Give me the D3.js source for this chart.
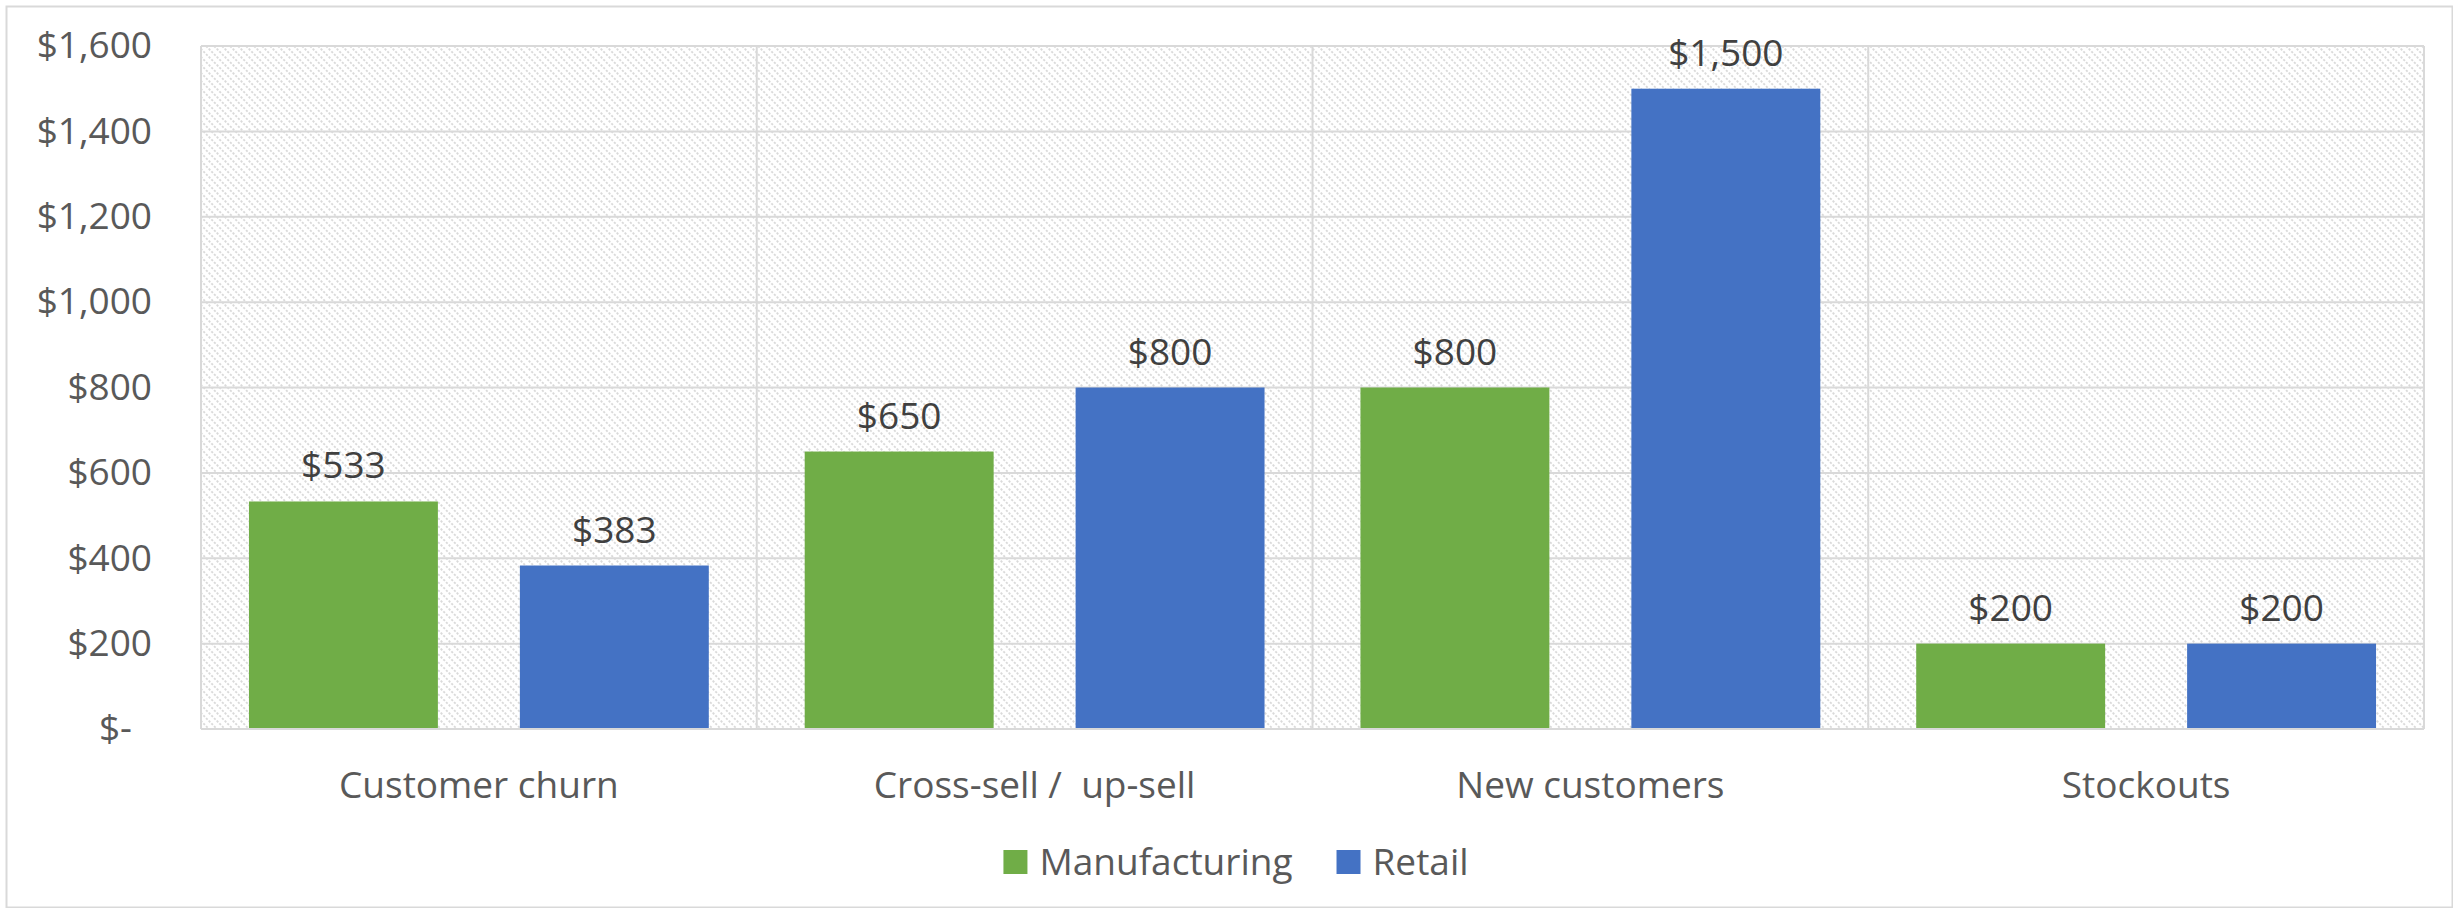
<!DOCTYPE html>
<html>
<head>
<meta charset="utf-8">
<script src="https://cdn.jsdelivr.net/npm/d3@7"></script>
<style>
  html, body { margin: 0; padding: 0; background: #ffffff; }
  svg { display: block; }
  text { font-family: "Open Sans", "Noto Sans", sans-serif; white-space: pre; }
</style>
</head>
<body>
<svg id="chart" width="2453" height="908"></svg>
<script>
// ---- data ----
const categories = ["Customer churn", "Cross-sell /  up-sell", "New customers", "Stockouts"];
const seriesNames = ["Manufacturing", "Retail"];
const manufacturing = [533, 650, 800, 200];
const retail = [383, 800, 1500, 200];
const yTickValues = [0, 200, 400, 600, 800, 1000, 1200, 1400, 1600];
const yTickLabels = ["$-", "$200", "$400", "$600", "$800", "$1,000", "$1,200", "$1,400", "$1,600"];
const seriesColors = ["#70AD47", "#4472C4"];

// ---- layout ----
const W = 2453, H = 908;
const FS = 37;
const plot = { left: 201, right: 2424, top: 46, bottom: 729 };
const svg = d3.select("#chart");

// outer chart border
svg.append("rect")
  .attr("x", 6.5).attr("y", 6.5).attr("width", W - 7).attr("height", H - 7)
  .attr("fill", "#ffffff").attr("stroke", "#d9d9d9").attr("stroke-width", 2);

// hatch pattern
const defs = svg.append("defs");
const pat = defs.append("pattern")
  .attr("id", "hatch").attr("patternUnits", "userSpaceOnUse")
  .attr("width", 8).attr("height", 8);
pat.append("rect").attr("width", 8).attr("height", 8).attr("fill", "#ffffff");
pat.append("path")
  .attr("d", "M-2,-2 L10,10 M-2,6 L2,10 M6,-2 L10,2")
  .attr("stroke", "#dadada").attr("stroke-width", 1.8)
  .attr("stroke-dasharray", "2.2 1.6");

const x = d3.scaleBand().domain(categories).range([plot.left, plot.right]).padding(0);
const xInner = d3.scaleBand().domain(seriesNames).range([0, x.bandwidth()])
  .paddingInner(0.3026).paddingOuter(0.177);
const y = d3.scaleLinear().domain([0, 1600]).range([plot.bottom, plot.top]);

// plot background
svg.append("rect")
  .attr("x", plot.left).attr("y", plot.top)
  .attr("width", plot.right - plot.left).attr("height", plot.bottom - plot.top)
  .attr("fill", "url(#hatch)");

// horizontal gridlines
svg.append("g").selectAll("line").data(yTickValues).join("line")
  .attr("x1", plot.left).attr("x2", plot.right)
  .attr("y1", d => y(d)).attr("y2", d => y(d))
  .attr("stroke", "#d9d9d9").attr("stroke-width", 2);

// vertical gridlines (category boundaries)
const vLines = categories.map(c => x(c)).concat([plot.right]);
svg.append("g").selectAll("line").data(vLines).join("line")
  .attr("x1", d => d).attr("x2", d => d)
  .attr("y1", plot.top).attr("y2", plot.bottom)
  .attr("stroke", "#d9d9d9").attr("stroke-width", 2);

// bars
const series = [manufacturing, retail];
series.forEach((vals, si) => {
  const g = svg.append("g");
  g.selectAll("rect").data(vals).join("rect")
    .attr("x", (d, i) => x(categories[i]) + xInner(seriesNames[si]))
    .attr("y", d => y(d))
    .attr("width", xInner.bandwidth())
    .attr("height", d => y(0) - y(d))
    .attr("fill", seriesColors[si]);
  g.selectAll("text").data(vals).join("text")
    .attr("x", (d, i) => x(categories[i]) + xInner(seriesNames[si]) + xInner.bandwidth() / 2)
    .attr("y", d => y(d) - 23)
    .attr("text-anchor", "middle")
    .attr("font-size", FS)
    .attr("fill", "#404040")
    .text(d => "$" + d3.format(",")(d));
});

// bottom axis line
svg.append("line")
  .attr("x1", plot.left).attr("x2", plot.right)
  .attr("y1", plot.bottom).attr("y2", plot.bottom)
  .attr("stroke", "#d9d9d9").attr("stroke-width", 2);

// y axis labels
const yAxis = d3.axisLeft(y).tickValues(yTickValues)
  .tickFormat((d, i) => yTickLabels[i]).tickSize(0).tickPadding(0);
const yg = svg.append("g").attr("transform", `translate(${plot.left - 49},0)`).call(yAxis);
yg.select(".domain").remove();
yg.selectAll("text")
  .attr("font-size", FS).attr("font-family", "Open Sans")
  .attr("fill", "#595959")
  .attr("dx", (d) => d === 0 ? -20 : 0);

// x axis labels
const xAxis = d3.axisBottom(x).tickSize(0).tickPadding(0);
const xg = svg.append("g").attr("transform", `translate(0,${plot.bottom})`).call(xAxis);
xg.select(".domain").remove();
xg.selectAll("text")
  .attr("font-size", FS).attr("font-family", "Open Sans")
  .attr("fill", "#595959")
  .attr("dy", null)
  .attr("y", 69);

// legend
const legend = svg.append("g");
let cursor = 0;
seriesNames.forEach((name, i) => {
  const it = legend.append("g").attr("transform", `translate(${cursor},0)`);
  it.append("rect").attr("x", 0).attr("y", -12).attr("width", 24).attr("height", 24)
    .attr("fill", seriesColors[i]);
  const t = it.append("text").attr("x", 36).attr("y", 0).attr("dy", "0.35em")
    .attr("font-size", FS).attr("fill", "#595959").text(name);
  const tw = t.node().getComputedTextLength();
  cursor += 36 + tw + 44;
});
const legendWidth = cursor - 44;
legend.attr("transform", `translate(${1236 - legendWidth / 2},862)`);
</script>
</body>
</html>
